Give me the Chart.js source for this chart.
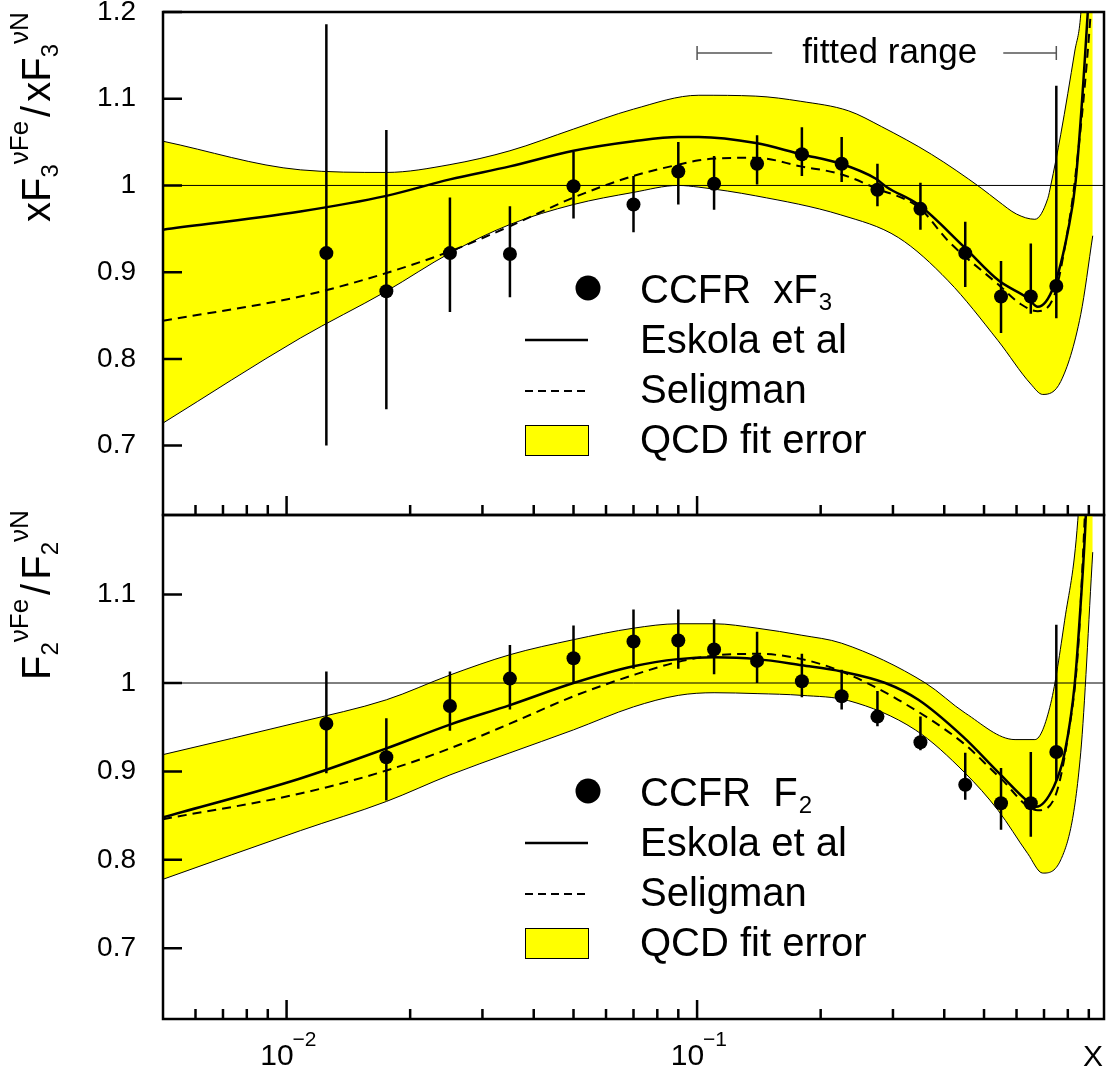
<!DOCTYPE html>
<html>
<head>
<meta charset="utf-8">
<script src="https://cdn.jsdelivr.net/npm/chart.js@4.4.0/dist/chart.umd.min.js"></script>
<style>
    html, body { margin: 0; padding: 0; background: #fff; }
    #wrap { position: relative; width: 1111px; height: 1071px; }
    #wrap canvas { position: absolute; left: 0; top: 0; }
</style>
</head>
<body>
<div id="wrap">
    <canvas id="topChart" width="1111" height="1071"></canvas>
    <canvas id="bottomChart" width="1111" height="1071"></canvas>
</div>
<script>
// CCFR data points (same x bins for both panels)
const pointX = [0.0125, 0.0175, 0.025, 0.035, 0.05, 0.07, 0.09, 0.11, 0.14, 0.18, 0.225, 0.275, 0.35, 0.45, 0.55, 0.65, 0.75];

const xf3Ratio = [0.922, 0.878, 0.922, 0.921, 0.999, 0.978, 1.016, 1.002, 1.025, 1.036, 1.025, 0.995, 0.973, 0.922, 0.872, 0.872, 0.884];
const xf3ErrUp = [0.264, 0.186, 0.064, 0.055, 0.040, 0.033, 0.034, 0.032, 0.033, 0.031, 0.031, 0.030, 0.030, 0.036, 0.041, 0.061, 0.231];
const xf3ErrDown = [0.222, 0.136, 0.068, 0.050, 0.037, 0.032, 0.038, 0.030, 0.024, 0.025, 0.021, 0.019, 0.024, 0.039, 0.042, 0.020, 0.037];

const f2Ratio = [0.954, 0.916, 0.974, 1.005, 1.028, 1.047, 1.048, 1.038, 1.025, 1.002, 0.985, 0.962, 0.933, 0.885, 0.864, 0.864, 0.922];
const f2ErrUp = [0.059, 0.044, 0.039, 0.038, 0.037, 0.036, 0.035, 0.034, 0.033, 0.031, 0.030, 0.029, 0.029, 0.036, 0.040, 0.058, 0.144];
const f2ErrDown = [0.056, 0.049, 0.028, 0.035, 0.028, 0.031, 0.032, 0.028, 0.025, 0.018, 0.015, 0.011, 0.009, 0.017, 0.030, 0.038, 0.032];

// xF3 panel curves
const xf3EskolaX = [0.005, 0.0108, 0.0175, 0.025, 0.035, 0.05, 0.07, 0.09, 0.101, 0.139, 0.179, 0.224, 0.272, 0.29, 0.346, 0.445, 0.544, 0.639, 0.676, 0.74, 0.80, 0.836, 0.894, 0.93];
const xf3EskolaY = [0.949, 0.970, 0.988, 1.007, 1.022, 1.040, 1.051, 1.056, 1.056, 1.049, 1.036, 1.025, 1.008, 0.998, 0.978, 0.930, 0.890, 0.870, 0.860, 0.884, 0.947, 1.005, 1.197, 1.35];

const xf3SeligX = [0.005, 0.0108, 0.0175, 0.025, 0.035, 0.05, 0.07, 0.09, 0.101, 0.11, 0.139, 0.179, 0.224, 0.272, 0.348, 0.409, 0.544, 0.615, 0.676, 0.744, 0.786, 0.832, 0.91, 0.95];
const xf3SeligY = [0.844, 0.872, 0.899, 0.924, 0.953, 0.986, 1.011, 1.024, 1.029, 1.031, 1.032, 1.022, 1.013, 0.997, 0.974, 0.936, 0.885, 0.863, 0.855, 0.875, 0.928, 1.005, 1.20, 1.35];

const xf3UpperX = [0.005, 0.0108, 0.0175, 0.025, 0.035, 0.05, 0.07, 0.101, 0.139, 0.179, 0.234, 0.281, 0.372, 0.492, 0.541, 0.60, 0.665, 0.715, 0.727, 0.769, 0.832, 0.86, 0.92];
const xf3UpperY = [1.051, 1.018, 1.015, 1.024, 1.040, 1.065, 1.088, 1.104, 1.103, 1.097, 1.086, 1.068, 1.036, 0.997, 0.982, 0.967, 0.961, 0.985, 1.000, 1.059, 1.155, 1.197, 1.45];

const xf3LowerX = [0.005, 0.0108, 0.0175, 0.025, 0.035, 0.05, 0.07, 0.09, 0.101, 0.139, 0.224, 0.309, 0.409, 0.541, 0.65, 0.695, 0.769, 0.86, 0.92];
const xf3LowerY = [0.726, 0.824, 0.878, 0.922, 0.955, 0.978, 0.992, 1.000, 0.998, 0.988, 0.966, 0.940, 0.890, 0.821, 0.771, 0.759, 0.774, 0.851, 0.942];

// F2 panel curves
const f2EskolaX = [0.005, 0.0108, 0.0175, 0.025, 0.035, 0.05, 0.07, 0.09, 0.11, 0.14, 0.18, 0.225, 0.2875, 0.346, 0.445, 0.544, 0.639, 0.669, 0.74, 0.786, 0.832, 0.86, 0.884, 0.92];
const f2EskolaY = [0.848, 0.892, 0.926, 0.953, 0.975, 1.000, 1.019, 1.027, 1.029, 1.027, 1.020, 1.013, 1.000, 0.981, 0.939, 0.898, 0.866, 0.860, 0.883, 0.921, 1.000, 1.090, 1.184, 1.40];

const f2SeligX = [0.005, 0.0108, 0.0175, 0.025, 0.035, 0.05, 0.07, 0.09, 0.11, 0.14, 0.18, 0.225, 0.309, 0.445, 0.544, 0.676, 0.744, 0.80, 0.846, 0.879, 0.92];
const f2SeligY = [0.846, 0.875, 0.901, 0.926, 0.954, 0.985, 1.009, 1.024, 1.031, 1.033, 1.027, 1.013, 0.981, 0.932, 0.894, 0.856, 0.871, 0.939, 1.034, 1.184, 1.40];

const f2UpperX = [0.005, 0.0108, 0.0175, 0.025, 0.035, 0.05, 0.07, 0.09, 0.11, 0.14, 0.18, 0.225, 0.36, 0.45, 0.595, 0.665, 0.727, 0.786, 0.846, 0.92];
const f2UpperY = [0.919, 0.956, 0.981, 1.009, 1.032, 1.049, 1.062, 1.067, 1.067, 1.062, 1.054, 1.045, 1.000, 0.966, 0.936, 0.936, 0.977, 1.071, 1.184, 1.50];

const f2LowerX = [0.005, 0.0108, 0.0175, 0.025, 0.035, 0.05, 0.07, 0.09, 0.11, 0.14, 0.18, 0.234, 0.34, 0.45, 0.541, 0.639, 0.695, 0.769, 0.86, 0.92];
const f2LowerY = [0.778, 0.833, 0.866, 0.896, 0.921, 0.947, 0.973, 0.986, 0.989, 0.988, 0.986, 0.980, 0.947, 0.898, 0.856, 0.807, 0.785, 0.800, 0.921, 1.148];

// reference line at ratio = 1
const unityX = [0.005, 0.98];
const unityY = [1, 1];

// axis ticks and labels
const yTicksTop = [0.7, 0.8, 0.9, 1, 1.1, 1.2];
const yLabelsTop = ["0.7", "0.8", "0.9", "1", "1.1", "1.2"];
const yTicksBottom = [0.7, 0.8, 0.9, 1, 1.1];
const yLabelsBottom = ["0.7", "0.8", "0.9", "1", "1.1"];
const majorXTicks = [0.01, 0.1];
const minorXTicks = [0.006, 0.007, 0.008, 0.009, 0.02, 0.03, 0.04, 0.05, 0.06, 0.07, 0.08, 0.09, 0.2, 0.3, 0.4, 0.5, 0.6, 0.7, 0.8, 0.9];
const xLabelExponents = ["\u22122", "\u22121"];
const fittedRange = [0.1, 0.75];

const FONT = '"Liberation Sans", Arial, sans-serif';
const YELLOW = "#ffff00";

function toXY(xs, ys) {
    return xs.map((x, i) => ({ x: x, y: ys[i] }));
}

function curve(xs, ys, extra) {
    return Object.assign({
        data: toXY(xs, ys),
        borderColor: "#000",
        borderWidth: 2.5,
        pointRadius: 0,
        cubicInterpolationMode: "monotone",
        fill: false,
    }, extra);
}

// error bars for the CCFR points
function drawErrorBars(chart, vals, up, down) {
    const ctx = chart.ctx;
    const xs = chart.scales.x, ys = chart.scales.y;
    ctx.save();
    ctx.strokeStyle = "#000";
    ctx.lineWidth = 2.5;
    ctx.beginPath();
    pointX.forEach((x, i) => {
        const px = xs.getPixelForValue(x);
        ctx.moveTo(px, ys.getPixelForValue(vals[i] + up[i]));
        ctx.lineTo(px, ys.getPixelForValue(vals[i] - down[i]));
    });
    ctx.stroke();
    ctx.restore();
}

// frame + inward ticks
function drawFrame(chart) {
    const ctx = chart.ctx, a = chart.chartArea;
    const xs = chart.scales.x, ys = chart.scales.y;
    ctx.save();
    ctx.strokeStyle = "#000";
    ctx.lineWidth = 2.5;
    ctx.beginPath();
    majorXTicks.forEach(v => {
        const px = xs.getPixelForValue(v);
        ctx.moveTo(px, a.bottom);
        ctx.lineTo(px, a.bottom - 19);
    });
    minorXTicks.forEach(v => {
        const px = xs.getPixelForValue(v);
        ctx.moveTo(px, a.bottom);
        ctx.lineTo(px, a.bottom - 10);
    });
    ys.ticks.forEach(t => {
        const py = ys.getPixelForValue(t.value);
        ctx.moveTo(a.left, py);
        ctx.lineTo(a.left + 19, py);
    });
    ctx.stroke();
    ctx.strokeRect(a.left, a.top, a.right - a.left, a.bottom - a.top);
    ctx.restore();
}

// legend drawn inside the panel
function drawLegend(chart, mainText, subText) {
    const ctx = chart.ctx, top = chart.chartArea.top;
    const textX = 640, symL = 525, symR = 588;
    const base = i => top + 291 + 50 * i;
    ctx.save();
    ctx.fillStyle = "#000";
    ctx.strokeStyle = "#000";

    ctx.beginPath();
    ctx.arc(588, base(0) - 15, 12.5, 0, Math.PI * 2);
    ctx.fill();

    ctx.lineWidth = 2.5;
    ctx.beginPath();
    ctx.moveTo(symL, base(1) - 13);
    ctx.lineTo(symR, base(1) - 13);
    ctx.stroke();

    ctx.lineWidth = 2;
    ctx.setLineDash([8, 5]);
    ctx.beginPath();
    ctx.moveTo(symL, base(2) - 12);
    ctx.lineTo(symR, base(2) - 12);
    ctx.stroke();
    ctx.setLineDash([]);

    ctx.fillStyle = YELLOW;
    ctx.fillRect(symL, base(3) - 28, symR - symL, 30);
    ctx.lineWidth = 1;
    ctx.strokeRect(symL + 0.5, base(3) - 27.5, symR - symL, 30);

    ctx.fillStyle = "#000";
    ctx.textAlign = "left";
    ctx.font = "40px " + FONT;
    ctx.fillText(mainText, textX, base(0));
    const w = ctx.measureText(mainText).width;
    ctx.font = "24px " + FONT;
    ctx.fillText(subText, textX + w + 1, base(0) + 7);
    ctx.font = "40px " + FONT;
    ctx.fillText("Eskola et al", textX, base(1));
    ctx.fillText("Seligman", textX, base(2));
    ctx.fillText("QCD fit error", textX, base(3));
    ctx.restore();
}

// rotated y-axis title with sub/superscripts
function drawAxisTitle(chart, parts, startY) {
    const ctx = chart.ctx;
    ctx.save();
    ctx.translate(50, startY);
    ctx.rotate(-Math.PI / 2);
    ctx.fillStyle = "#000";
    ctx.textAlign = "left";
    let u = 0;
    parts.forEach(p => {
        let v = 0;
        if (p[1] === "sub") { ctx.font = "24px " + FONT; v = 8; }
        else if (p[1] === "sup") { ctx.font = "26px " + FONT; v = -22; }
        else { ctx.font = "40px " + FONT; }
        u += p[2] || 0;
        ctx.fillText(p[0], u, v);
        u += ctx.measureText(p[0]).width + (p[2] || 0);
    });
    ctx.restore();
}

function drawFittedRange(chart) {
    const ctx = chart.ctx, a = chart.chartArea, xs = chart.scales.x;
    const L = xs.getPixelForValue(fittedRange[0]);
    const R = xs.getPixelForValue(fittedRange[1]);
    const y = a.top + 41;
    ctx.save();
    ctx.font = "35px " + FONT;
    const label = "fitted range";
    const w = ctx.measureText(label).width;
    const cx = (L + R) / 2 + 13;
    ctx.fillStyle = "#000";
    ctx.textAlign = "center";
    ctx.fillText(label, cx, a.top + 51);
    ctx.strokeStyle = "#555";
    ctx.lineWidth = 1.5;
    ctx.beginPath();
    ctx.moveTo(L, y);
    ctx.lineTo(cx - w / 2 - 30, y);
    ctx.moveTo(cx + w / 2 + 26, y);
    ctx.lineTo(R, y);
    ctx.moveTo(L, y - 7);
    ctx.lineTo(L, y + 7);
    ctx.moveTo(R, y - 7);
    ctx.lineTo(R, y + 7);
    ctx.stroke();
    ctx.restore();
}

function drawXLabels(chart) {
    const ctx = chart.ctx, a = chart.chartArea, xs = chart.scales.x;
    ctx.save();
    ctx.fillStyle = "#000";
    majorXTicks.forEach((v, i) => {
        const px = xs.getPixelForValue(v);
        ctx.font = "30px " + FONT;
        ctx.textAlign = "right";
        ctx.fillText("10", px + 7, a.bottom + 46);
        ctx.font = "21px " + FONT;
        ctx.textAlign = "left";
        ctx.fillText(xLabelExponents[i], px + 6, a.bottom + 27);
    });
    ctx.font = "30px " + FONT;
    ctx.textAlign = "right";
    ctx.fillText("X", a.right - 1, a.bottom + 47);
    ctx.restore();
}

function panelPlugin(cfg) {
    return {
        id: "panel_" + cfg.name,
        afterDatasetsDraw(chart) {
            drawErrorBars(chart, cfg.vals, cfg.up, cfg.down);
            drawFrame(chart);
            drawLegend(chart, cfg.legendMain, cfg.legendSub);
            drawAxisTitle(chart, cfg.title, cfg.titleY);
            if (cfg.fitted) drawFittedRange(chart);
            if (cfg.xLabels) drawXLabels(chart);
        },
    };
}

function makePanel(canvasId, cfg) {
    return new Chart(document.getElementById(canvasId), {
        type: "line",
        data: {
            datasets: [
                curve(cfg.upper[0], cfg.upper[1], { borderWidth: 1, fill: "+1", backgroundColor: YELLOW, order: 10 }),
                curve(cfg.lower[0], cfg.lower[1], { borderWidth: 1, order: 9 }),
                curve(unityX, unityY, { borderWidth: 1, cubicInterpolationMode: "default", order: 5 }),
                curve(cfg.selig[0], cfg.selig[1], { borderWidth: 2, borderDash: [9, 6], order: 3 }),
                curve(cfg.eskola[0], cfg.eskola[1], { order: 2 }),
                {
                    data: toXY(pointX, cfg.vals),
                    showLine: false,
                    pointRadius: 7,
                    pointBackgroundColor: "#000",
                    pointBorderWidth: 0,
                    order: 1,
                },
            ],
        },
        options: {
            responsive: false,
            animation: false,
            events: [],
            layout: { padding: cfg.padding },
            plugins: { legend: { display: false }, tooltip: { enabled: false } },
            scales: {
                x: { type: "logarithmic", min: 0.005, max: 0.98, display: false },
                y: {
                    type: "linear",
                    min: cfg.yMin,
                    max: cfg.yMax,
                    grid: { display: false, drawTicks: false },
                    border: { display: false },
                    ticks: {
                        color: "#000",
                        font: { family: "Liberation Sans", size: 28 },
                        padding: 27,
                        callback: (v, i) => cfg.tickLabels[i],
                    },
                    afterBuildTicks: s => {
                        s.ticks = cfg.tickValues.map(v => ({ value: v }));
                    },
                    afterFit: s => {
                        s.width = 163;
                        s.paddingTop = 0;
                        s.paddingBottom = 0;
                    },
                },
            },
        },
        plugins: [panelPlugin(cfg)],
    });
}

// top panel: xF3 ratio
makePanel("topChart", {
    name: "xf3",
    padding: { left: 0, right: 5, top: 12, bottom: 556 },
    yMin: 0.62, yMax: 1.2,
    tickValues: yTicksTop, tickLabels: yLabelsTop,
    vals: xf3Ratio, up: xf3ErrUp, down: xf3ErrDown,
    eskola: [xf3EskolaX, xf3EskolaY],
    selig: [xf3SeligX, xf3SeligY],
    upper: [xf3UpperX, xf3UpperY],
    lower: [xf3LowerX, xf3LowerY],
    legendMain: "CCFR  xF", legendSub: "3",
    title: [["x", "n"], ["F", "n"], ["3", "sub"], ["\u03bdFe", "sup"], ["/", "n", 4], ["x", "n"], ["F", "n"], ["3", "sub"], ["\u03bdN", "sup"]],
    titleY: 222,
    fitted: true,
    xLabels: false,
});

// bottom panel: F2 ratio
makePanel("bottomChart", {
    name: "f2",
    padding: { left: 0, right: 5, top: 515, bottom: 52 },
    yMin: 0.62, yMax: 1.19,
    tickValues: yTicksBottom, tickLabels: yLabelsBottom,
    vals: f2Ratio, up: f2ErrUp, down: f2ErrDown,
    eskola: [f2EskolaX, f2EskolaY],
    selig: [f2SeligX, f2SeligY],
    upper: [f2UpperX, f2UpperY],
    lower: [f2LowerX, f2LowerY],
    legendMain: "CCFR  F", legendSub: "2",
    title: [["F", "n"], ["2", "sub"], ["\u03bdFe", "sup"], ["/", "n", 4], ["F", "n"], ["2", "sub"], ["\u03bdN", "sup"]],
    titleY: 680,
    fitted: false,
    xLabels: true,
});
</script>
</body>
</html>
